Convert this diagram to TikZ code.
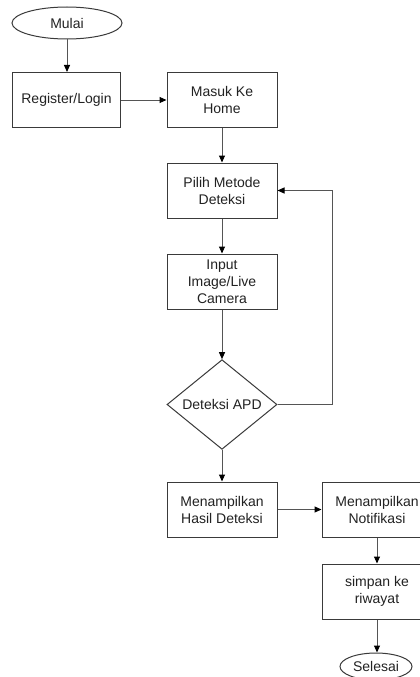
\documentclass[tikz,border=0pt]{standalone}
\usepackage{fontspec}
\setmainfont{Liberation Sans}
\usetikzlibrary{shapes.geometric,arrows.meta}
\definecolor{edgec}{HTML}{3A3A3A}
\definecolor{linec}{HTML}{555555}
\definecolor{textc}{HTML}{222222}
\tikzset{
  base/.style={draw=edgec, line width=1pt, fill=white, text=textc, align=center,
    font=\fontsize{14}{17}\selectfont, inner sep=0pt},
  procbox/.style={base, rectangle, minimum width=110pt, minimum height=55pt},
  termin/.style={base, ellipse, minimum width=110pt, minimum height=32pt},
  decide/.style={base, diamond, minimum width=110pt, minimum height=81pt},
  conn/.style={draw=linec, line width=1pt, -{Triangle[length=7pt,width=6pt,fill=black,color=black]}}
}
\begin{document}
\begin{tikzpicture}[x=1pt,y=-1pt]
\useasboundingbox (0,0) rectangle (420,677);
\clip (0,0) rectangle (420,677);
\node[termin] (mulai) at (67,23) {Mulai};
\node[procbox, minimum width=108pt] (reg) at (66.5,100) {Register/Login};
\node[procbox] (home) at (222,100) {Masuk Ke\\Home};
\node[procbox] (pilih) at (222,190.5) {Pilih Metode\\Deteksi};
\node[procbox] (input) at (222,281.5) {Input\\Image/Live\\Camera};
\node[decide] (apd) at (222,404.5) {Deteksi APD};
\node[procbox] (hasil) at (222,509.5) {Menampilkan\\Hasil Deteksi};
\node[procbox] (notif) at (377,509.5) {Menampilkan\\Notifikasi};
\node[procbox] (simpan) at (377,591.5) {simpan ke\\riwayat};
\node[termin, minimum width=72pt, minimum height=27pt] (selesai) at (376,666.5) {Selesai};
\coordinate (loop) at (332,404.5);
\draw[conn] (mulai.south) -- (mulai.south |- reg.north);
\draw[conn] (reg.east) -- (home.west);
\draw[conn] (home.south) -- (pilih.north);
\draw[conn] (pilih.south) -- (input.north);
\draw[conn] (input.south) -- (apd.north);
\draw[conn] (apd.east) -- (loop) |- (pilih.east);
\draw[conn] (apd.south) -- (hasil.north);
\draw[conn] (hasil.east) -- (notif.west);
\draw[conn] (notif.south) -- (simpan.north);
\draw[conn] (simpan.south) -- (simpan.south |- selesai.north);
\end{tikzpicture}
\end{document}
